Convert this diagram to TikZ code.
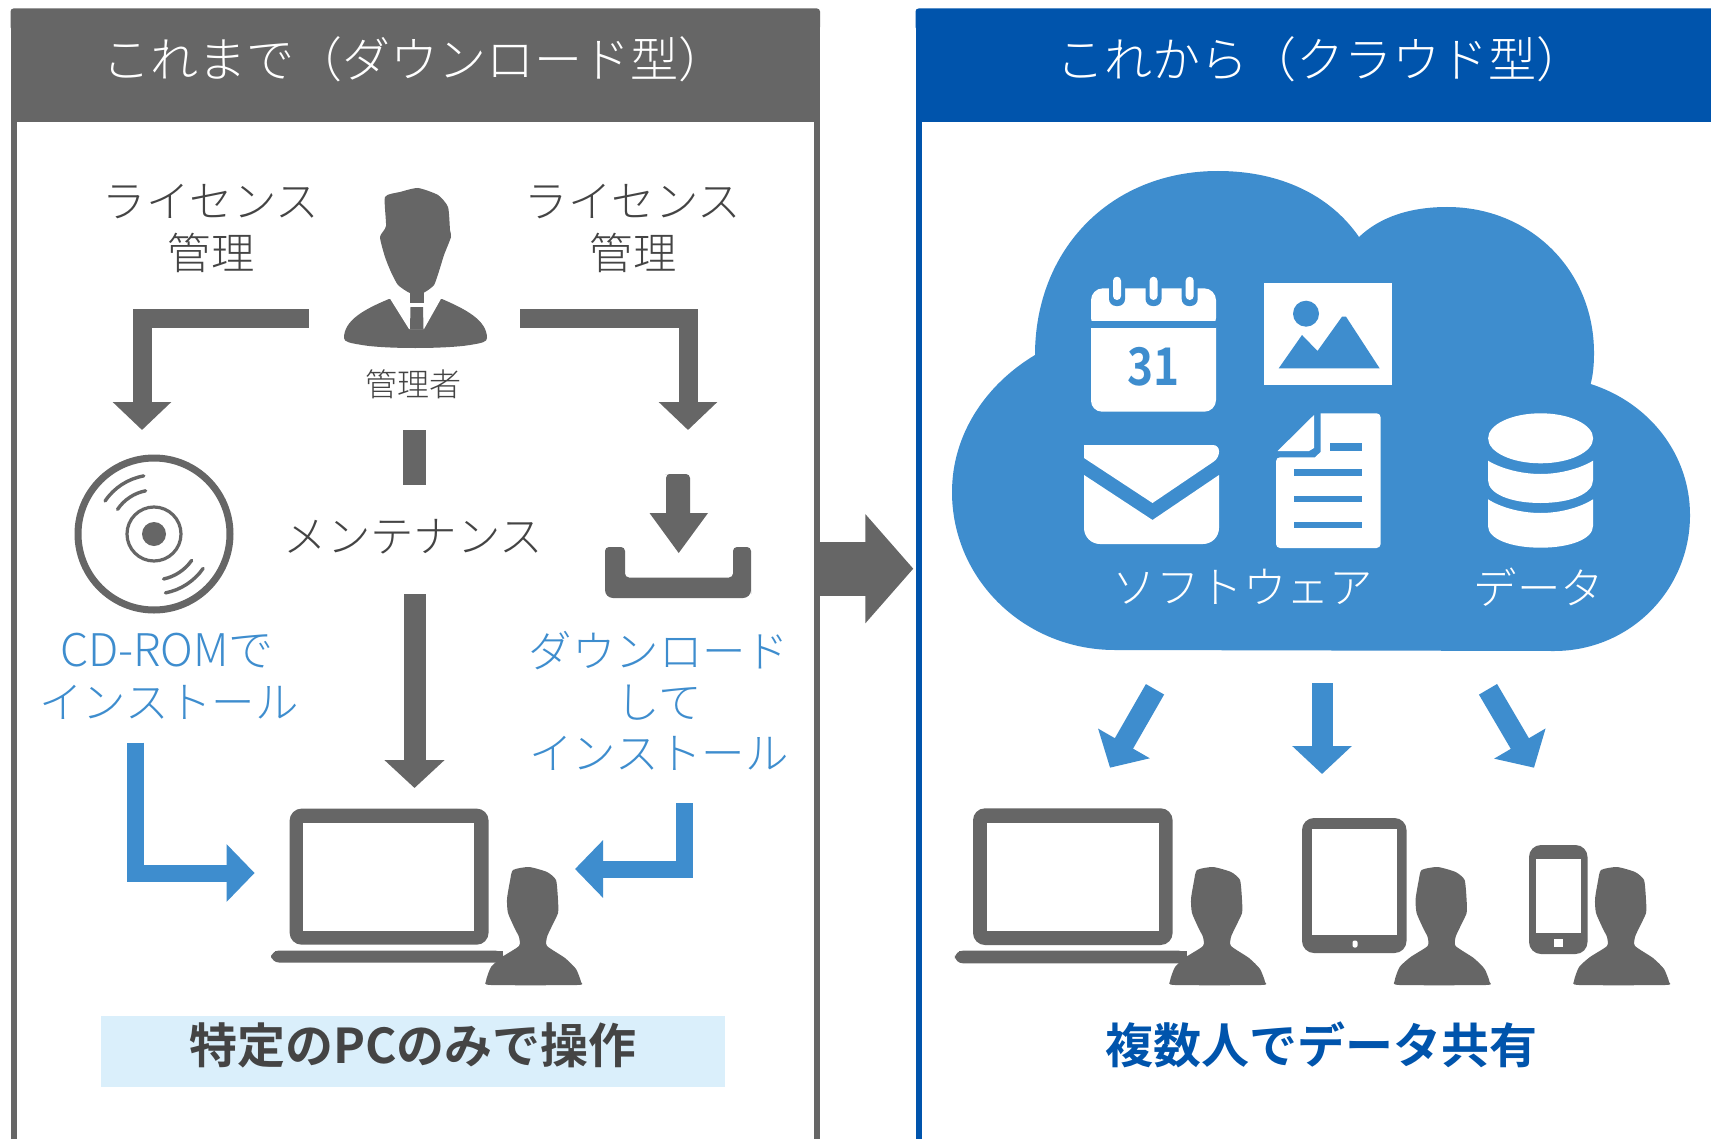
\documentclass[tikz,border=0pt]{standalone}
\usepackage{fontspec}
\setmainfont{Noto Sans CJK JP Light}[BoldFont={Noto Sans CJK JP Bold}]
\usetikzlibrary{arrows.meta}
\definecolor{gy}{HTML}{666666}
\definecolor{tx}{HTML}{444444}
\definecolor{bl}{HTML}{3E8DCE}
\definecolor{nv}{HTML}{0054AC}
\definecolor{pb}{HTML}{DAEFFB}
\tikzset{
  x=0.5pt,y=-0.5pt,
  lbl/.style={text=tx,font=\fontsize{21.7}{25}\selectfont,inner sep=0pt,align=center},
  hdr/.style={text=white,font=\fontsize{24}{28}\selectfont,inner sep=0pt},
  blt/.style={text=bl,font=\fontsize{21.7}{25}\selectfont,inner sep=0pt},
  whl/.style={text=white,font=\fontsize{21.7}{25}\selectfont,inner sep=0pt},
  bld/.style={font=\bfseries\fontsize{24}{28}\selectfont,inner sep=0pt},
  grayarrow/.style={draw=gy,line width=9.5pt,miter limit=10,-{Triangle[width=28.5pt,length=14pt,fill=gy]}},
  bluearrow/.style={draw=bl,line width=8.5pt,miter limit=10,-{Triangle[width=28pt,length=14pt,fill=bl]}},
  devarrow/.style={draw=bl,line width=10.5pt,-{Triangle[width=29pt,length=14pt,fill=bl]}},
  person/.pic={
    \fill[gy] plot[smooth cycle,tension=.35] coordinates {(-20,3)(-4,0)(14,5)(23,13)(25,33)(25,46)(18,61)(14,70)(14,79)(32,91)(43,102)(48,115)(44,118)(-42,118)(-47,114)(-42,100)(-31,90)(-14,79)(-14,70)(-18,62)(-25,46)(-26,32)(-23,14)};
  },
}
\begin{document}
\begin{tikzpicture}
\useasboundingbox (0,0) rectangle (1711,1139);
\fill[white] (0,0) rectangle (1711,1139);

% left panel
\fill[gy,rounded corners=1.5pt] (10.5,8.5) rectangle (820,30);
\fill[gy] (10.5,20) rectangle (820,122);
\fill[gy] (10.5,122) rectangle (16.5,1139);
\fill[gy] (814,122) rectangle (820,1139);
\node[hdr] (hl) at (414,59) {これまで（ダウンロード型）};

% right panel
\fill[nv,rounded corners=1.5pt] (915.5,8.5) rectangle (1730,30);
\fill[nv] (915.5,20) rectangle (1711,122);
\fill[nv] (915.5,122) rectangle (922,1139);
\node[hdr] (hr) at (1320.6,59) {これから（クラウド型）};

% admin
\fill[gy] plot[smooth cycle,tension=.35] coordinates {(418,188)(400,192)(385,197)(386,226)(380,237)(385,257)(391,272)(398,285)(410,293)(423,293)(434,285)(440,268)(444,255)(451,237)(450,230)(448,207)(438,195)};
\fill[gy] (389,299) .. controls (365,309) and (344,320) .. (344,338) .. controls (344,342) and (350,343) .. (362,345) .. controls (385,349) and (445,349) .. (470,345) .. controls (482,343) and (487,342) .. (487,338) .. controls (487,320) and (465,309) .. (442,299) -- cycle;
\fill[white] (389,297) -- (442,297) -- (424,329) -- (409,329) -- cycle;
\fill[gy] (410,290) rectangle (423.5,303);
\fill[gy] (410.5,307) -- (423,307) -- (423.5,329) -- (410,329) -- cycle;
\coordinate (admL) at (308.6,318);
\coordinate (admR) at (520,318);
\node[text=tx,font=\fontsize{16}{20}\selectfont,inner sep=0pt] (adm) at (413.5,384) {管理者};

\node[lbl] (lic1t) at (211,202) {ライセンス};
\node[lbl] (lic1k) at (211,253) {管理};
\node[lbl] (lic2t) at (633,202) {ライセンス};
\node[lbl] (lic2k) at (633,253) {管理};
\node[lbl] (mnt) at (413.5,537) {メンテナンス};

% CD
\draw[gy,line width=3.5pt] (154,534) circle (76);
\draw[gy,line width=1.6pt] (154,534) circle (27);
\fill[gy] (154,534) circle (12);
\foreach \r/\a/\b in {44/101/146,59/100/146,46/282/325,60/281/325}{
  \draw[gy,line width=1.7pt,line cap=round] ({154+\r*cos(\a)},{534-\r*sin(\a)}) arc[start angle=-\a,end angle=-\b,radius=\r];
}
\coordinate (cdT) at (142,430);

% download
\fill[gy,rounded corners=2pt] (605,547) -- (625,547) -- (625,577.5) -- (733,577.5) -- (733,547) -- (751,547) -- (751,590) [rounded corners=4pt] -- (751,598) -- (605,598) [rounded corners=2pt] -- cycle;
\fill[gy] (669,474) [rounded corners=2pt] -- (690,474) [sharp corners] -- (690,513) -- (708,513) -- (678.7,553) -- (649.5,513) -- (666,513) [rounded corners=2pt] -- (666,474) -- cycle;
\coordinate (dlT) at (688,430);

\node[blt,font=\fontsize{22.5}{26}\selectfont] (cdt1) at (167,651) {CD-ROMで};
\node[blt] (cdt2) at (169,702) {インストール};
\node[blt] (dlt1) at (659,651) {ダウンロード};
\node[blt] (dlt2) at (659,703) {して};
\node[blt] (dlt3) at (659,753) {インストール};

% laptop left
\fill[gy,rounded corners=6pt] (289.6,808.6) rectangle (488.6,944.7);
\fill[white] (302.8,822.7) rectangle (474,930.6);
\fill[gy,rounded corners=4pt] (271,950.5) -- (503,950.5) -- (503,962.5) -- (271,962.5) -- cycle;
\fill[gy] (275,950.5) rectangle (503,958);
\pic at (533,867) {person};
\coordinate (pcT) at (414.5,788);
\coordinate (pcL) at (254.6,873);
\coordinate (pcR) at (575,869);

% connectors, left panel
\draw[grayarrow] (admL) -| (cdT);
\draw[grayarrow] (admR) -| (dlT);
\fill[gy] (403.4,430) rectangle (425.6,485);
\coordinate (mntB) at (414.5,594);
\draw[draw=gy,line width=11pt,-{Triangle[width=29.3pt,length=14pt,fill=gy]}] (mntB) -- (pcT);
\coordinate (cdB) at (135.5,742.6);
\coordinate (dlB) at (684,803);
\draw[bluearrow] (cdB) |- (pcL);
\draw[bluearrow] (dlB) |- (pcR);

% result left
\fill[pb] (101,1016) rectangle (725,1086.6);
\node[bld,text=tx] (resl) at (413,1045) {特定のPCのみで操作};

% big arrow
\coordinate (bigS) at (820,568.7);
\coordinate (bigE) at (913.3,568.7);
\draw[draw=gy,line width=27pt,-{Triangle[width=53.3pt,length=24pt,fill=gy]}] (bigS) -- (bigE);

% cloud
\fill[bl] (1035,355) .. controls (1035,250) and (1110,171) .. (1218,171)
  .. controls (1280,171) and (1330,195) .. (1359,237)
  .. controls (1380,217) and (1410,207) .. (1447,207)
  .. controls (1530,207) and (1594,270) .. (1594,353)
  .. controls (1594,365) and (1593,375) .. (1590.6,384)
  .. controls (1650,403) and (1690,455) .. (1690,515)
  .. controls (1690,590) and (1630,651) .. (1554,651)
  -- (1115,650)
  .. controls (1025,650) and (952,580) .. (952,492)
  .. controls (952,435) and (985,385) .. (1035,355) -- cycle;

% calendar
\fill[white,rounded corners=6pt] (1091,330) -- (1091,288.3) -- (1216,288.3) -- (1216,330) -- cycle;
\fill[white] (1091,327.7) -- (1216,327.7) -- (1216,400) arc[start angle=0,end angle=90,radius=11.7] -- (1102,411.7) arc[start angle=90,end angle=180,radius=11] -- cycle;
\fill[bl] (1091,321) rectangle (1216,327.7);
\foreach \x in {1117,1153.5,1189.7}{
  \fill[bl,rounded corners=3.5pt] (\x-8,279) rectangle (\x+8,306);
  \fill[white,rounded corners=2pt] (\x-4,276.7) rectangle (\x+4,300);
}
\node[text=bl,font=\bfseries\fontsize{26}{30}\selectfont,inner sep=0pt,xscale=.85] (c31) at (1153.5,367) {31};

% image
\fill[white] (1264,283) rectangle (1392,385);
\fill[bl] (1306,313.7) circle (13);
\fill[bl] (1278.7,368.3) -- (1302,335) -- (1317.5,351) -- (1342,316.7) -- (1346,316.7) -- (1379.6,368.3) -- cycle;

% envelope
\fill[white,rounded corners=3pt] (1084,445) -- (1219,445) -- (1219,458) [sharp corners] -- (1152.5,503) -- (1084,458) -- cycle;
\fill[white] (1084,475) -- (1152.5,520) -- (1219,475) [rounded corners=8pt] -- (1219,544) -- (1084,544) [sharp corners] -- cycle;

% document
\fill[white,rounded corners=2pt] (1320.6,413.3) -- (1380.6,413.3) -- (1380.6,548) -- (1276,548) -- (1276,457.3) [sharp corners] -- (1315,457.3) -- (1320.6,452) -- cycle;
\fill[white] (1314,415) -- (1314,448) -- (1309,451) -- (1277.6,451) -- cycle;
\fill[bl] (1330.4,442.7) rectangle (1362,450.7);
\foreach \y in {469.3,495.7,521.7}{\fill[bl] (1294,\y) rectangle (1362,\y+6.2);}

% database
\fill[white] (1540.6,438.3) ellipse [x radius=52.5,y radius=25];
\fill[white] (1488,460.7) .. controls (1500,468) and (1520,474) .. (1540.6,474) .. controls (1561,474) and (1581,468) .. (1593,460.7) -- (1593,480) .. controls (1593,494) and (1570,503) .. (1540.6,503) .. controls (1511,503) and (1488,494) .. (1488,480) -- cycle;
\fill[white] (1488,499.3) .. controls (1500,507) and (1520,513) .. (1540.6,513) .. controls (1561,513) and (1581,507) .. (1593,499.3) -- (1593,526) .. controls (1593,539) and (1570,547.7) .. (1540.6,547.7) .. controls (1511,547.7) and (1488,539) .. (1488,526) -- cycle;

\node[whl] (sw) at (1243,587) {ソフトウェア};
\node[whl] (dt) at (1539,587) {データ};

% device arrows
\coordinate (clL) at (1155,689.3);
\coordinate (clM) at (1322,683);
\coordinate (clR) at (1488,689.3);
\coordinate (dvL) at (1110,767.7);
\coordinate (dvM) at (1322,774);
\coordinate (dvR) at (1534,767.7);
\draw[devarrow] (clL) -- (dvL);
\draw[devarrow] (clM) -- (dvM);
\draw[devarrow] (clR) -- (dvR);

% laptop right
\fill[gy,rounded corners=6pt] (973,808.3) rectangle (1172.6,945);
\fill[white] (987,822.7) rectangle (1158.7,931);
\fill[gy,rounded corners=4pt] (954.8,950.7) -- (1187,950.7) -- (1187,963.3) -- (954.8,963.3) -- cycle;
\fill[gy] (959,950.7) rectangle (1187,958);
\pic at (1217,867) {person};

% tablet
\fill[gy,rounded corners=6pt] (1302,818) rectangle (1406.5,953);
\fill[white] (1312.3,829.3) rectangle (1396.6,934.7);
\fill[white,rounded corners=1pt] (1352.5,940.5) rectangle (1357.5,947.5);
\pic at (1441.6,867) {person};

% phone
\fill[gy,rounded corners=6pt] (1529,845) rectangle (1587.5,954);
\fill[white] (1535.8,859.3) rectangle (1581.3,932.7);
\fill[white] (1553.5,939) rectangle (1562.5,947);
\pic at (1621,867) {person};

\node[bld,text=nv] (resr) at (1321,1045) {複数人でデータ共有};
\end{tikzpicture}
\end{document}
